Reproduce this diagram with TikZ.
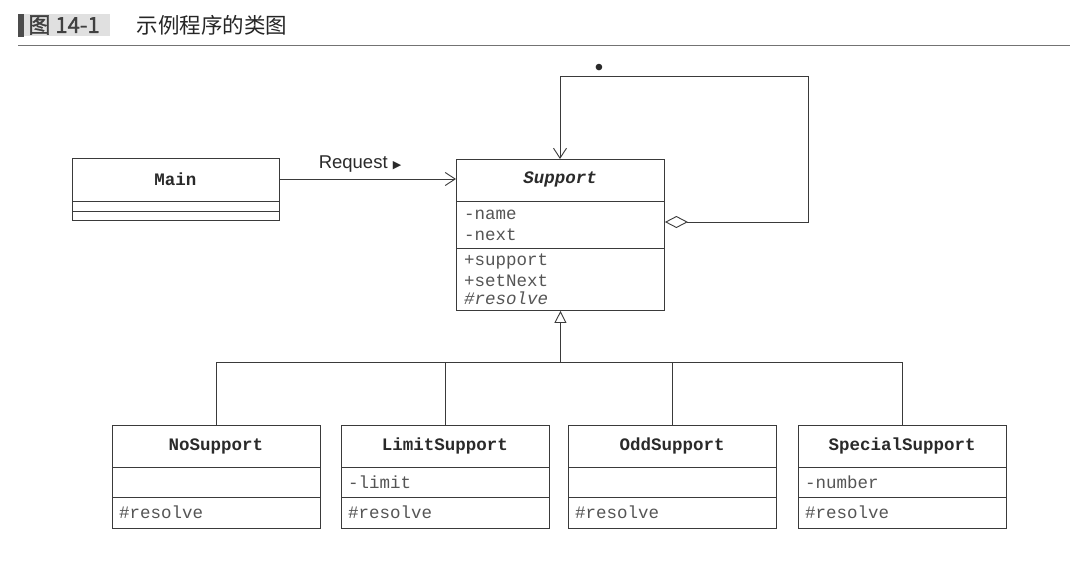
\documentclass[tikz,border=0pt]{standalone}
\usepackage{fontspec}
\setmainfont{Liberation Sans}
\setmonofont{Liberation Mono}
\newfontfamily\cjk{Noto Sans CJK SC}
\newfontfamily\cjkb[FakeBold=1.5]{Noto Sans CJK SC}
\newfontfamily\dejavu{DejaVu Sans}
\usetikzlibrary{arrows.meta}
\definecolor{ln}{HTML}{3A3A3A}
\definecolor{txt}{HTML}{2A2A2A}
\definecolor{soft}{HTML}{555555}
\tikzset{
  cls/.style={draw=ln, line width=0.9pt, anchor=north west, inner sep=0pt, fill=white},
  cname/.style={font=\fontsize{17.5}{20}\selectfont\ttfamily\bfseries, text=txt, anchor=center},
  attr/.style={font=\fontsize{17.5}{20}\selectfont\ttfamily, text=soft, anchor=west, inner sep=0pt},
  conn/.style={draw=ln, line width=0.9pt},
  openarrow/.style={-{Straight Barb[length=10pt,width=13pt,line width=0.9pt]}},
}
\begin{document}
\begin{tikzpicture}[x=1pt,y=-1pt]
\useasboundingbox[fill=white] (0,0) rectangle (1070,562);
% title
\node[fill=black!12, anchor=north west, minimum width=88, minimum height=22, inner sep=0pt] (tbox) at (22,14) {};
\fill[black!70] (18,14) rectangle (24,37);
\node[anchor=west, font=\cjkb\fontsize{22}{22}\selectfont, text=black!75] (tnum) at (25,25) {图 14-1};
\node[anchor=west, font=\cjk\fontsize{21.5}{22}\selectfont, text=black!85] (ttl) at (133,25) {示例程序的类图};
\draw[black!55, line width=0.8pt] (18,45) -- (1070,45);

% Main
\node[cls, minimum width=207, minimum height=62] (main) at (72,158) {};
\draw[conn] (72,201) -- (279,201);
\draw[conn] (72,211) -- (279,211);
\node[cname] (mainname) at (175.5,179) {Main};

% Support
\node[cls, minimum width=208, minimum height=151] (sup) at (456,159) {};
\draw[conn] (456,201) -- (664,201);
\draw[conn] (456,248) -- (664,248);
\node[cname, font=\fontsize{17.5}{20}\selectfont\ttfamily\bfseries\itshape] (supname) at (560,179) {Support};
\node[attr] (a1) at (464,215) {-name};
\node[attr] (a2) at (464,235) {-next};
\node[attr] (m1) at (464,261) {+support};
\node[attr] (m2) at (464,281) {+setNext};
\node[attr, font=\fontsize{17.5}{20}\selectfont\ttfamily\itshape] (m3) at (464,298) {\#resolve};

% Main -> Support
\coordinate (reqA) at (279,179);
\coordinate (reqB) at (456,179);
\draw[conn, openarrow] (main.east |- reqA) -- (sup.west |- reqB);
\node[anchor=south, font=\fontsize{18.5}{20}\selectfont, text=txt] (req) at (360,176) {Request {\dejavu\fontsize{11}{14}\selectfont ▶}};

% self aggregation
\coordinate (c1) at (808,222);
\coordinate (c2) at (808,76);
\coordinate (c3) at (560,76);
\draw[conn, {Diamond[open,length=23pt,width=12pt,line width=0.9pt]}-{Straight Barb[length=10pt,width=13pt,line width=0.9pt]}]
  (sup.east |- c1) -- (c1) -- (c2) -- (c3) -- (sup.north -| c3);
\node[font=\fontsize{24}{24}\selectfont, text=txt] (mult) at (599,70) {\textbullet};

% subclasses
\foreach \nm/\x/\title/\at in {nos/112/NoSupport/, lim/341/LimitSupport/-limit, odd/568/OddSupport/, spe/798/SpecialSupport/-number}{
  \node[cls, minimum width=208, minimum height=103] (\nm) at (\x,425) {};
  \draw[conn] (\x,467) -- ++(208,0);
  \draw[conn] (\x,497) -- ++(208,0);
  \node[cname] (\nm name) at (\x+104,446) {\title};
  \node[attr] (\nm att) at (\x+7,482) {\at};
  \node[attr] (\nm res) at (\x+7,512) {\#resolve};
}

% generalization
\coordinate (bus) at (560,362);
\draw[conn, {Triangle[open,length=12pt,width=12pt,line width=0.9pt]}-] (sup.south) -- (sup.south |- bus);
\draw[conn] (nos.north |- bus) -- (spe.north |- bus);
\foreach \nm in {nos,lim,odd,spe}{
  \draw[conn] (\nm.north |- bus) -- (\nm.north);
}
\end{tikzpicture}
\end{document}
